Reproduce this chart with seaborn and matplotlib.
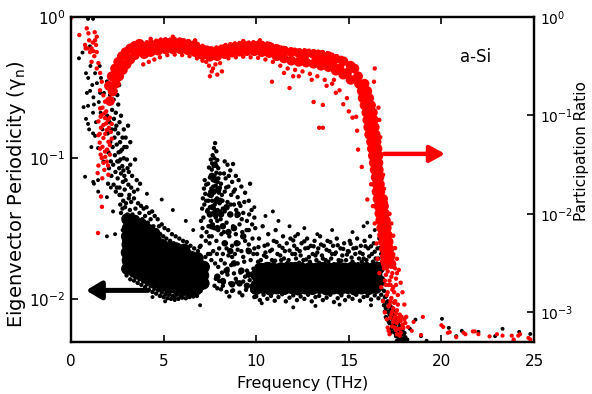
import matplotlib
matplotlib.use("Agg")
import matplotlib.pyplot as plt
import pandas as pd
import seaborn as sns
from matplotlib.ticker import NullLocator

# ---------------- data (x = THz) ----------------
# black: eigenvector periodicity (left axis)
black_sparse = [
    (0.43, .51), (0.92, .97), (1.19, .97), (0.81, .40), (0.93, .37), (0.86, .29), (1.03, .30),
    (1.21, .27), (0.92, .235), (1.24, .24), (0.81, .19), (0.92, .175), (1.19, .21), (1.30, .40),
    (1.40, .34), (1.62, .37), (1.57, .29), (1.78, .29), (1.94, .35), (2.10, .37), (2.10, .28),
    (1.30, .144), (1.19, .15), (1.46, .118), (0.76, .074), (1.24, .066), (1.46, .070), (1.47, .058),
    (1.20, .068), (1.94, .053), (2.15, .062), (2.27, .042), (1.94, .028), (2.38, .029), (0.62, .56),
    (1.05, .45), (1.35, .18), (1.60, .21), (1.70, .16), (1.50, .25), (1.10, .12), (1.75, .095),
    (0.68, .23), (1.02, .62), (1.55, .45), (1.15, .33), (0.98, .16),
    (4.9, .051), (5.5, .043), (6.2, .036), (4.1, .056), (6.6, .031), (3.6, .060),
    (5.08, .0097), (6.97, .0091), (5.6, .0099), (4.4, .0104),
    (14.1, .031), (16.0, .035), (12.6, .032), (11.2, .036), (10.5, .039), (13.3, .029), (15.2, .030),
    (15.8, .033), (16.4, .031), (11.8, .033), (10.9, .042), (9.9, .045), (12.1, .028),
    (12.0, .0088), (14.5, .0092), (16.2, .0091), (10.3, .0094), (13.2, .0090),
]
black_rise = [
    (1.95, .20), (1.98, .15), (2.02, .11), (2.05, .085), (2.00, .066), (2.08, .18), (2.12, .13),
    (2.15, .095), (2.18, .075), (2.20, .16), (2.22, .22), (2.25, .12), (2.28, .09), (2.30, .065),
    (2.32, .19), (2.35, .14), (2.37, .105), (2.40, .08), (2.42, .058), (2.45, .17), (2.47, .125),
    (2.50, .095), (2.52, .072), (2.55, .15), (2.57, .11), (2.60, .085), (2.62, .062), (2.65, .13),
    (2.67, .098), (2.70, .078), (2.72, .055), (2.75, .115), (2.77, .088), (2.80, .068), (2.82, .05),
    (2.85, .10), (2.88, .075), (2.90, .06), (2.92, .045), (2.30, .26), (2.40, .30), (2.55, .24),
    (2.60, .33), (2.70, .20), (2.85, .16), (3.08, .17), (3.20, .13), (3.20, .09), (3.46, .098),
    (3.73, .066), (3.00, .12), (3.05, .085), (3.10, .065), (3.30, .075), (3.40, .058), (2.95, .14),
    (2.42, .21), (2.50, .28), (2.66, .047), (2.70, .041), (2.62, .055), (3.55, .07), (3.15, .055),
    (2.38, .16), (2.62, .18), (2.78, .14), (2.48, .062), (2.58, .095), (2.83, .082), (2.95, .07),
    (3.02, .098), (3.12, .08), (3.25, .062), (2.68, .112), (2.88, .12),
]
black_core_low = [
    (3.04, .0165), (3.07, .019), (3.02, .0215), (3.06, .0245), (3.03, .028), (3.08, .032), (3.05, .037),
    (3.43, .0157), (3.40, .018), (3.45, .0205), (3.41, .0235), (3.44, .027), (3.39, .031), (3.42, .036),
    (3.80, .015), (3.83, .017), (3.78, .0195), (3.81, .0222), (3.79, .0255), (3.84, .029), (3.80, .034),
    (4.18, .014), (4.16, .016), (4.20, .0183), (4.17, .021), (4.21, .024), (4.15, .0275), (4.19, .031),
    (4.56, .0132), (4.58, .015), (4.54, .0172), (4.57, .0197), (4.55, .0225), (4.59, .026), (4.52, .029),
    (4.94, .0125), (4.92, .0143), (4.96, .0163), (4.93, .0187), (4.97, .0213), (4.91, .0243),
    (5.32, .0121), (5.34, .0139), (5.30, .0159), (5.33, .0182), (5.29, .0207), (5.35, .0235),
    (5.70, .0120), (5.68, .0137), (5.72, .0157), (5.69, .0179), (5.73, .0204), (5.67, .0230),
    (6.08, .0120), (6.10, .0137), (6.06, .0156), (6.09, .0178), (6.05, .0202), (6.11, .0225),
    (6.46, .0121), (6.44, .0138), (6.48, .0157), (6.45, .0178), (6.49, .0200),
    (6.84, .0124), (6.86, .0141), (6.82, .0160), (6.85, .0180), (6.83, .0196),
    (7.15, .0130), (7.13, .0148), (7.17, .0170),
]
black_edge_low = [
    (2.78, .044), (2.85, .038), (2.80, .031), (2.88, .026), (2.83, .021), (2.90, .018), (2.95, .0158),
    (2.97, .048), (3.05, .040), (3.12, .052), (3.18, .043), (3.25, .049), (3.32, .040), (3.40, .052),
    (3.48, .044), (3.55, .038), (3.62, .048), (3.70, .041), (3.78, .046), (3.85, .037), (3.92, .044),
    (4.00, .039), (4.08, .045), (4.15, .035), (4.22, .041), (4.30, .037), (4.38, .042), (4.45, .033),
    (4.52, .039), (4.60, .031), (4.68, .037), (4.75, .033), (4.82, .029), (4.90, .034), (4.98, .028),
    (5.05, .032), (5.15, .027), (5.25, .031), (5.35, .026), (5.45, .029), (5.55, .025), (5.65, .028),
    (5.75, .024), (5.85, .027), (5.95, .0235), (6.05, .026), (6.15, .023), (6.25, .0255), (6.35, .022),
    (6.45, .024), (6.55, .021), (6.65, .023), (6.75, .0205), (6.85, .022), (6.95, .0235),
    (7.00, .024), (7.05, .028), (7.10, .032), (7.02, .036), (7.15, .038), (7.08, .044), (7.20, .047),
    (7.12, .052), (7.25, .056), (7.18, .061), (7.30, .065), (7.22, .070), (7.28, .026), (7.32, .030),
    (7.35, .042), (7.30, .050), (7.26, .020), (7.30, .016), (7.22, .0145),
    (2.90, .0165), (3.00, .0148), (3.10, .0158), (3.20, .0139), (3.30, .0150), (3.40, .0136),
    (3.50, .0143), (3.60, .0131), (3.70, .0139), (3.80, .0127), (3.90, .0134), (4.00, .0122),
    (4.10, .0128), (4.20, .0117), (4.30, .0124), (4.40, .0113), (4.50, .0119), (4.60, .0110),
    (4.70, .0116), (4.80, .0106), (4.90, .0112), (5.00, .0104), (5.10, .0109), (5.20, .0102),
    (5.30, .0108), (5.40, .0101), (5.50, .0106), (5.60, .0102), (5.70, .0108), (5.80, .0101),
    (5.90, .0107), (6.00, .0103), (6.10, .0109), (6.20, .0102), (6.30, .0108), (6.40, .0104),
    (6.50, .0109), (6.60, .0105), (6.70, .0110), (6.80, .0106), (6.90, .0112), (7.00, .0115),
    (7.10, .0121), (7.20, .0128), (7.30, .0136),
]
black_peak = [
    (7.78, .128), (7.72, .118), (7.85, .112), (7.65, .105), (7.90, .097), (7.55, .098), (7.80, .092),
    (7.70, .088), (7.95, .085), (7.60, .083), (7.45, .086), (7.85, .079), (7.75, .075), (8.05, .078),
    (7.50, .073), (7.65, .070), (7.92, .068), (7.40, .066), (7.82, .064), (8.10, .066), (7.58, .061),
    (7.70, .058), (7.98, .057), (7.45, .055), (7.88, .052), (8.15, .055), (7.62, .050), (7.76, .047),
    (8.02, .048), (7.50, .045), (7.92, .043), (7.38, .043), (7.68, .041), (8.20, .044), (7.82, .038),
    (7.55, .036), (8.08, .037), (7.42, .033), (7.72, .032), (7.95, .031), (7.60, .028), (8.12, .029),
    (7.48, .025), (7.85, .026), (7.68, .022), (8.00, .023), (7.40, .021), (7.58, .019), (7.78, .018),
    (7.95, .017), (7.82, .014), (7.90, .012), (8.00, .0135), (7.75, .0125),
    (8.30, .095), (8.45, .090), (8.75, .091), (8.60, .082), (8.90, .075), (8.35, .072), (8.70, .068),
    (9.05, .070), (8.50, .063), (8.85, .060), (9.20, .063), (8.30, .058), (8.65, .055), (9.00, .053),
    (9.40, .057), (8.45, .049), (8.80, .047), (9.15, .046), (9.60, .050), (8.30, .042), (8.60, .040),
    (8.95, .039), (9.30, .041), (9.67, .066), (9.75, .043), (8.40, .035), (8.75, .033), (9.10, .034),
    (9.50, .036), (9.90, .038), (8.25, .030), (8.55, .028), (8.90, .029), (9.25, .030), (9.60, .031),
    (9.95, .032), (8.35, .025), (8.70, .024), (9.05, .025), (9.40, .026), (9.80, .027), (8.20, .021),
    (8.50, .0205), (8.85, .021), (9.20, .022), (9.55, .0225), (9.90, .023), (8.30, .018), (8.65, .0175),
    (9.00, .018), (9.35, .0185), (9.70, .019), (8.15, .0155), (8.45, .015), (8.80, .0153), (9.15, .0155),
    (9.50, .016), (9.85, .0165), (8.25, .0132), (8.60, .013), (8.95, .0133), (9.30, .0134), (9.65, .0137),
    (8.10, .0118), (8.40, .0113), (8.75, .0116), (9.10, .0112), (9.45, .0117), (9.80, .0115),
    (8.55, .0105), (9.25, .0107), (9.90, .0104),
    (7.52, .058), (7.62, .092), (7.68, .063), (7.74, .100), (7.86, .088), (7.96, .072), (8.04, .062),
    (7.42, .050), (7.56, .040), (7.66, .034), (7.78, .043), (7.90, .036), (8.06, .042), (8.18, .050),
    (8.26, .078), (8.38, .062), (8.52, .075), (8.62, .047), (8.78, .058), (8.92, .043), (9.08, .048),
    (9.22, .037), (9.36, .049), (9.48, .031), (9.62, .040), (9.78, .034), (7.46, .028), (7.52, .021),
    (7.88, .021), (8.10, .019), (8.40, .023), (8.70, .020), (9.00, .0225), (9.30, .020), (9.60, .0245),
    (9.85, .021), (8.45, .0165), (8.90, .014), (9.40, .0145), (9.75, .0125), (8.20, .0125), (8.70, .0115),
]
black_core_peak = [
    (7.60, .075), (7.80, .070), (7.70, .058), (7.95, .060), (7.55, .055), (7.85, .050), (7.65, .045),
    (8.05, .050), (7.50, .040), (7.80, .040), (8.10, .040), (7.60, .033), (7.90, .032), (8.20, .033),
    (8.40, .045), (8.60, .040), (8.50, .030), (8.80, .032), (9.00, .040), (8.30, .025), (8.60, .022),
    (8.95, .025), (9.30, .028), (9.60, .022), (8.40, .016), (8.80, .018), (9.20, .016), (9.60, .015),
    (8.20, .0135), (8.70, .0128), (9.10, .0130), (9.50, .0125), (9.90, .0130), (7.90, .0145),
]
black_core_band = [
    (10.00, .0119), (10.38, .0121), (10.76, .0118), (11.14, .0120), (11.52, .0119), (11.90, .0121),
    (12.28, .0118), (12.66, .0120), (13.04, .0119), (13.42, .0121), (13.80, .0118), (14.18, .0120),
    (14.56, .0119), (14.94, .0121), (15.32, .0118), (15.70, .0120), (16.08, .0119), (16.46, .0121),
    (10.19, .0133), (10.57, .0135), (10.95, .0132), (11.33, .0134), (11.71, .0133), (12.09, .0135),
    (12.47, .0132), (12.85, .0134), (13.23, .0133), (13.61, .0135), (13.99, .0132), (14.37, .0134),
    (14.75, .0133), (15.13, .0135), (15.51, .0132), (15.89, .0134), (16.27, .0133), (16.65, .0135),
    (10.02, .0149), (10.40, .0151), (10.78, .0148), (11.16, .0150), (11.54, .0149), (11.92, .0151),
    (12.30, .0148), (12.68, .0150), (13.06, .0149), (13.44, .0151), (13.82, .0148), (14.20, .0150),
    (14.58, .0149), (14.96, .0151), (15.34, .0148), (15.72, .0150), (16.10, .0149), (16.48, .0151),
    (10.21, .0165), (10.59, .0167), (10.97, .0164), (11.35, .0166), (11.73, .0165), (12.11, .0167),
    (12.49, .0164), (12.87, .0166), (13.25, .0165), (13.63, .0167), (14.01, .0164), (14.39, .0166),
    (14.77, .0165), (15.15, .0167), (15.53, .0164), (15.91, .0166), (16.29, .0165), (16.62, .0167),
]
black_edge_band = [
    (10.05, .021), (10.15, .027), (10.25, .019), (10.35, .033), (10.45, .024), (10.55, .020),
    (10.65, .029), (10.75, .022), (10.85, .019), (10.95, .026), (11.05, .031), (11.15, .021),
    (11.25, .024), (11.35, .019), (11.45, .028), (11.55, .022), (11.65, .025), (11.75, .019),
    (11.85, .027), (11.95, .021), (12.05, .024), (12.15, .0195), (12.25, .029), (12.35, .022),
    (12.45, .025), (12.55, .019), (12.65, .023), (12.75, .027), (12.85, .020), (12.95, .024),
    (13.05, .021), (13.15, .026), (13.25, .019), (13.35, .023), (13.45, .028), (13.55, .0205),
    (13.65, .024), (13.75, .019), (13.85, .026), (13.95, .022), (14.05, .0195), (14.15, .024),
    (14.25, .021), (14.35, .027), (14.45, .019), (14.55, .023), (14.65, .0205), (14.75, .025),
    (14.85, .019), (14.95, .022), (15.05, .026), (15.15, .0198), (15.25, .023), (15.35, .021),
    (15.45, .027), (15.55, .0195), (15.65, .024), (15.75, .021), (15.85, .026), (15.95, .019),
    (16.05, .023), (16.15, .028), (16.25, .021), (16.35, .025), (16.45, .0195), (16.55, .023),
    (16.65, .027), (16.75, .021), (16.80, .018), (16.70, .016), (16.80, .014), (16.75, .012),
    (10.10, .0185), (10.50, .0215), (10.90, .0178), (11.30, .0205), (11.70, .0182), (12.10, .021),
    (12.50, .0178), (12.90, .0185), (13.30, .0215), (13.70, .0178), (14.10, .021), (14.50, .0182),
    (14.90, .0208), (15.30, .0178), (15.70, .0185), (16.10, .0202), (16.50, .018),
    (10.12, .0235), (10.30, .0175), (10.42, .0205), (10.62, .0245), (10.70, .0178), (10.85, .0225),
    (11.02, .0188), (11.10, .0255), (11.28, .0172), (11.42, .0232), (11.50, .0195), (11.62, .0178),
    (11.80, .0222), (11.90, .0178), (12.00, .0262), (12.20, .0228), (12.32, .0182), (12.40, .0205),
    (12.60, .0258), (12.70, .0192), (12.80, .0232), (13.00, .0176), (13.10, .0238), (13.20, .0205),
    (13.40, .0182), (13.50, .0245), (13.60, .0195), (13.80, .0225), (13.90, .0185), (14.00, .0255),
    (14.20, .0178), (14.30, .0215), (14.40, .0242), (14.60, .0188), (14.70, .0228), (14.80, .0172),
    (15.00, .0218), (15.10, .0248), (15.20, .0185), (15.40, .0232), (15.50, .0178), (15.60, .0215),
    (15.80, .0195), (15.90, .0238), (16.00, .0178), (16.20, .0238), (16.30, .0185), (16.40, .0218),
    (16.60, .0195), (16.70, .0232),
    (10.00, .0105), (10.20, .0099), (10.40, .0108), (10.60, .0101), (10.80, .0106), (11.00, .0098),
    (11.20, .0104), (11.40, .0109), (11.60, .0097), (11.80, .0103), (12.00, .0107), (12.20, .0099),
    (12.40, .0105), (12.60, .0101), (12.80, .0108), (13.00, .0097), (13.20, .0104), (13.40, .0106),
    (13.60, .0099), (13.80, .0103), (14.00, .0108), (14.20, .0096), (14.40, .0102), (14.60, .0107),
    (14.80, .0099), (15.00, .0105), (15.20, .0101), (15.40, .0108), (15.60, .0098), (15.80, .0104),
    (16.00, .0106), (16.20, .0100), (16.40, .0107), (16.60, .0102), (16.75, .0108),
]
black_drop = [
    (16.85, .0098), (16.90, .0091), (16.95, .0104), (17.00, .0087), (17.05, .0095), (17.10, .0082),
    (17.15, .0089), (17.20, .0078), (17.25, .0085), (17.30, .0074), (17.35, .0080), (17.40, .0070),
    (17.45, .0076), (17.50, .0066), (17.55, .0072), (17.60, .0062), (17.65, .0068), (17.70, .0059),
    (17.75, .0064), (17.80, .0056), (17.85, .0060), (17.90, .0053), (17.95, .0057), (18.00, .0051),
    (18.05, .0054), (18.10, .0050), (17.30, .0062), (17.50, .0058), (17.70, .0053), (17.20, .0068),
    (17.60, .0051),
    (16.90, .0115), (17.00, .0105), (17.10, .0097), (17.20, .0092), (17.30, .0088), (17.40, .0083),
    (17.50, .0079), (17.60, .0074), (17.70, .0070), (17.80, .0065), (17.90, .0061), (18.00, .0058),
    (17.00, .0075), (17.15, .0070), (17.35, .0065), (17.45, .0059), (17.55, .0055), (17.75, .0051),
    (17.90, .0049), (18.15, .0052), (17.25, .0058), (16.95, .0082),
]
black_tail = [
    (18.6, .0072), (18.9, .0055), (20.03, .0073), (20.4, .0063), (20.8, .0055), (21.1, .0060),
    (22.0, .0059), (22.9, .0055), (23.3, .0062), (23.9, .0051), (24.2, .0059), (24.8, .0057),
    (18.3, .0062), (19.2, .0051),
]

# red: participation ratio (right axis)
red_left = [
    (0.0, .98), (0.45, .656), (0.85, .767), (0.94, .683), (0.76, .52), (0.90, .48), (1.11, .48),
    (1.30, .58), (1.39, .63), (1.21, .45), (1.03, .44), (1.39, .44), (0.79, .48), (1.26, .40),
    (1.11, .35), (1.48, .34), (1.39, .30), (1.57, .27), (1.66, .22), (1.57, .18), (1.75, .16),
    (1.84, .138), (1.57, .118), (1.66, .101), (1.48, .087), (1.84, .094), (1.62, .075), (1.93, .071),
    (1.48, .063), (1.75, .059), (2.02, .054), (1.57, .046), (1.84, .043), (2.10, .050), (1.66, .037),
    (1.93, .034), (1.48, .031), (1.80, .028), (1.44, .026), (2.02, .025), (1.69, .023),
    (1.62, .015), (1.67, .0118), (1.46, .0064),
    (1.70, .12), (1.90, .11), (2.00, .09), (1.75, .08), (2.05, .075), (1.55, .065), (1.85, .065),
    (2.15, .068), (1.70, .048), (1.95, .045), (2.20, .058), (1.60, .040), (1.85, .038), (2.10, .040),
    (1.75, .033), (2.00, .031), (1.55, .053), (1.90, .083), (1.60, .097), (1.80, .105), (2.10, .095),
    (2.20, .082), (1.35, .52), (1.18, .55), (0.98, .58), (1.28, .70),
]
red_core_band = [
    (2.05, .20), (2.20, .25), (2.38, .30), (2.55, .35), (2.75, .40), (2.95, .44), (3.20, .48),
    (3.45, .51), (3.70, .535), (2.10, .14), (2.25, .175), (2.42, .21), (2.60, .25), (2.80, .29),
    (3.00, .33), (3.20, .37), (3.45, .41), (3.70, .45),
    (3.95, .50), (3.95, .42), (4.30, .52), (4.30, .44), (4.70, .535), (4.70, .455), (5.10, .55),
    (5.10, .47), (5.50, .55), (5.50, .47), (5.90, .55), (5.90, .47), (6.30, .53), (6.30, .46),
    (6.70, .51), (6.70, .44), (7.10, .47), (7.10, .41), (7.50, .45), (7.50, .395), (7.90, .455),
    (7.90, .40), (8.30, .475), (8.30, .42), (8.70, .49), (8.70, .435), (9.10, .50), (9.10, .445),
    (9.50, .505), (9.50, .45), (9.90, .51), (9.90, .45), (10.30, .505), (10.30, .44), (10.70, .50),
    (10.70, .43), (11.10, .475), (11.10, .40), (11.50, .455), (11.50, .38), (11.90, .44), (11.90, .36),
    (12.30, .43), (12.30, .35), (12.70, .425), (12.70, .345), (13.10, .42), (13.10, .335), (13.50, .41),
    (13.50, .32), (13.90, .40), (13.90, .31), (14.30, .375), (14.30, .285), (14.70, .355), (14.70, .26),
    (15.10, .32), (15.10, .23), (13.70, .36), (14.10, .33), (14.50, .30), (14.90, .27), (12.50, .39),
    (13.30, .37),
]
red_core_wall = [
    (15.30, .30), (15.50, .25), (15.55, .21), (15.85, .21), (15.70, .177), (16.00, .177), (15.75, .15),
    (16.10, .15), (15.85, .127), (16.20, .127), (15.95, .107), (16.30, .107), (16.00, .090), (16.35, .090),
    (16.05, .076), (16.40, .076), (16.10, .064), (16.45, .064), (16.20, .054), (16.50, .054), (16.25, .046),
    (16.55, .046), (16.30, .039), (16.60, .039), (16.35, .033), (16.60, .033), (16.40, .028), (16.62, .028),
    (16.45, .0235), (16.65, .0235), (16.50, .020), (16.68, .020), (16.50, .0168), (16.70, .0168),
    (16.55, .0142), (16.85, .0142), (16.60, .0120), (16.90, .0120), (16.65, .0101), (16.95, .0101),
    (16.70, .0086), (17.00, .0086), (16.75, .0072), (17.05, .0072), (16.80, .0061), (17.10, .0061),
    (16.85, .0052), (17.15, .0052), (16.90, .0044), (17.20, .0044), (16.95, .0037), (17.25, .0037),
    (17.00, .0031), (17.30, .0031),
]
red_edge = [
    (2.10, .24), (2.35, .31), (2.60, .37), (2.85, .42), (3.10, .46), (3.35, .49), (3.60, .52),
    (3.85, .53), (4.10, .555), (4.35, .565), (4.60, .575), (4.85, .59), (5.10, .595), (5.35, .59),
    (5.60, .60), (5.85, .59), (6.10, .58), (6.35, .57), (6.60, .55), (6.85, .53), (7.10, .51),
    (7.35, .49), (7.60, .48), (7.85, .49), (8.10, .50), (8.35, .52), (8.60, .53), (8.85, .54),
    (9.10, .545), (9.35, .55), (9.60, .55), (9.85, .555), (10.10, .55), (10.35, .545), (10.60, .54),
    (10.85, .52), (11.10, .50), (11.35, .49), (11.60, .48), (11.85, .47), (12.10, .465), (12.35, .46),
    (12.60, .46), (12.85, .455), (13.10, .45), (13.35, .445), (13.60, .44), (13.85, .43), (14.10, .415),
    (14.35, .40), (14.60, .385), (14.85, .36), (15.05, .34), (15.25, .31),
    (5.50, .63), (4.30, .60), (6.70, .58), (9.30, .57), (10.20, .58),
    (7.50, .25), (7.90, .26), (8.15, .28), (7.67, .30), (7.80, .33), (7.45, .32), (8.05, .34),
    (7.60, .28), (7.30, .35),
    (3.90, .33), (4.20, .35), (4.50, .37), (4.80, .39), (5.20, .41), (5.60, .415), (6.00, .41),
    (6.40, .40), (6.80, .38), (7.10, .36), (8.50, .38), (8.90, .39), (9.30, .395), (9.70, .39),
    (10.10, .385), (10.50, .37), (10.90, .35), (11.30, .32), (11.70, .30), (12.10, .29), (12.50, .28),
    (12.90, .265), (13.30, .25), (13.70, .23), (14.10, .21), (14.50, .18), (14.90, .15), (11.50, .27),
    (12.30, .25), (13.00, .23), (13.80, .20), (14.30, .17), (14.70, .13), (15.00, .11), (15.20, .095),
    (15.40, .097), (15.45, .07), (15.50, .045), (15.70, .030), (16.00, .014),
    (10.85, .22), (11.80, .19), (12.00, .25), (13.40, .075), (13.60, .075), (13.60, .128),
    (13.10, .137), (14.20, .23), (16.40, .30), (16.36, .22),
]
red_wall_edge = [
    (16.60, .12), (16.65, .09), (16.70, .06), (16.75, .04), (16.85, .025), (16.90, .018), (17.00, .013),
    (17.20, .010), (17.30, .008), (17.40, .006), (17.50, .0045), (17.60, .0035), (17.70, .0027),
    (17.80, .0020), (17.90, .0016), (18.00, .0012), (18.10, .0009),
    (16.20, .020), (16.30, .012), (16.40, .008), (16.50, .005), (16.55, .0035), (16.65, .0025),
    (16.75, .0018), (16.85, .0013), (16.95, .0010), (17.05, .00085), (17.10, .0007), (17.20, .0006),
    (17.00, .0024), (17.20, .0021), (17.40, .0018), (17.10, .0016), (17.30, .0014), (17.50, .0013),
    (17.20, .0012), (17.40, .0011), (17.60, .00105), (17.30, .00095), (17.50, .0009), (17.70, .00088),
    (17.40, .0008), (17.60, .00078), (17.80, .00082), (17.50, .0007), (17.70, .00068), (17.90, .00075),
    (18.00, .00085), (17.60, .0006), (17.80, .00062), (17.15, .00065), (17.05, .0028), (17.35, .0025),
    (17.55, .0022), (17.25, .0019), (17.45, .0016), (17.65, .0015),
    (16.90, .0028), (17.10, .0026), (17.30, .0023), (16.95, .0021), (17.15, .0019), (17.35, .0017),
    (17.55, .0019), (17.05, .0015), (17.25, .0013), (17.45, .00125), (17.65, .0012), (17.15, .00115),
    (17.35, .00102), (17.55, .00098), (17.75, .00095), (17.25, .00088), (17.45, .00085), (17.65, .00082),
    (17.85, .0009), (17.95, .0007), (18.05, .00078), (17.35, .00072), (17.55, .00066), (17.75, .00058),
    (17.85, .00069), (17.00, .0019), (17.50, .0028), (17.60, .0025), (16.80, .0033), (17.40, .0039),
]
red_tail = [
    (18.2, .00071), (18.9, .00059), (19.0, .0009), (20.0, .00074), (20.1, .00071), (20.35, .00062),
    (20.45, .00063), (20.8, .00056), (21.2, .00062), (21.3, .0006), (21.7, .00064), (21.8, .00064),
    (22.0, .0006), (22.6, .00057), (23.0, .0006), (23.3, .00058), (23.8, .00058), (23.9, .00053),
    (24.15, .00058), (24.25, .0006), (24.7, .00055), (24.8, .00053), (18.5, .0008), (18.4, .00065),
]

x_ticks = [0, 5, 10, 15, 20, 25]
left_ticks = [1e-2, 1e-1, 1]
right_ticks = [1e-3, 1e-2, 1e-1, 1]

# ---------------- drawing ----------------
plt.rcParams['font.family'] = ['DejaVu Sans']
BLACK, RED = "#000000", "#ff0000"

fig = plt.figure(figsize=(5.92, 3.94), dpi=100)
ax = fig.add_axes([71 / 592, 52 / 394, 463 / 592, 325 / 394])
ax.set_yscale("log")
ax2 = ax.twinx()
ax2.set_yscale("log")


def layer(axis, pts, color, size):
    df = pd.DataFrame(pts, columns=["freq", "value"])
    sns.scatterplot(data=df, x="freq", y="value", ax=axis, color=color, s=size,
                    linewidth=0, edgecolor="none", legend=False)


for pts, size in [(black_sparse, 8), (black_rise, 10), (black_edge_low, 10), (black_peak, 10),
                  (black_edge_band, 10), (black_drop, 10), (black_tail, 8),
                  (black_core_peak, 22), (black_core_low, 80), (black_core_band, 80)]:
    layer(ax, pts, BLACK, size)

for pts, size in [(red_left, 10), (red_edge, 10), (red_wall_edge, 10), (red_tail, 9),
                  (red_core_band, 50), (red_core_wall, 50)]:
    layer(ax2, pts, RED, size)

ax.set_xlim(0, 25)
ax.set_ylim(5e-3, 1)
ax2.set_ylim(5e-4, 1)
ax.set_xticks(x_ticks)
ax.set_xticklabels([str(t) for t in x_ticks])
ax.set_yticks(left_ticks)
ax2.set_yticks(right_ticks)
ax.yaxis.set_minor_locator(NullLocator())
ax2.yaxis.set_minor_locator(NullLocator())

ax.tick_params(axis="both", which="both", direction="in", length=5, width=1.2,
               labelsize=11, top=True, right=False)
ax.tick_params(axis="x", pad=9)
ax.tick_params(axis="y", pad=4)
ax2.tick_params(axis="y", which="both", direction="in", length=5, width=1.2,
                labelsize=10, pad=4)
for a in (ax, ax2):
    for sp in a.spines.values():
        sp.set_linewidth(1.6)

ax.set_xlabel("Frequency (THz)", fontsize=11.5)
ax.set_ylabel(r"Eigenvector Periodicity ($\mathregular{\gamma_n}$)", fontsize=14)
ax2.set_ylabel("Participation Ratio", fontsize=11)
ax.yaxis.set_label_coords(-0.093, 0.456)
ax2.yaxis.set_label_coords(1.086, 0.588)
ax.xaxis.set_label_coords(0.5, -0.105)

ax.text(0.873, 0.877, "a-Si", transform=ax.transAxes, ha="center", va="center", fontsize=12)

ax.annotate("", xy=(0.81, 0.0116), xytext=(4.16, 0.0116),
            arrowprops=dict(arrowstyle="-|>,head_length=0.6,head_width=0.36", lw=3.6,
                            color=BLACK, shrinkA=0, shrinkB=0, mutation_scale=15))
ax2.annotate("", xy=(20.2, 0.0407), xytext=(16.9, 0.0407),
             arrowprops=dict(arrowstyle="-|>,head_length=0.6,head_width=0.33", lw=3.2,
                             color=RED, shrinkA=0, shrinkB=0, mutation_scale=15))

fig.savefig("out.png", dpi=100)
